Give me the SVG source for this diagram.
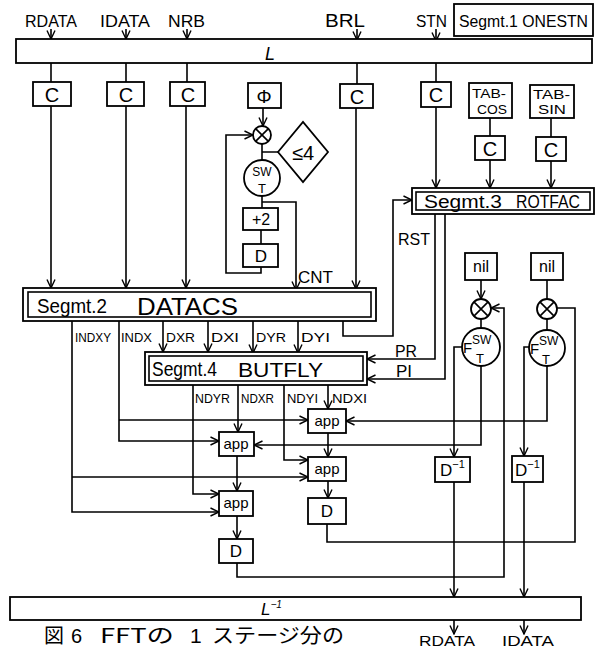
<svg xmlns="http://www.w3.org/2000/svg" width="597" height="651" viewBox="0 0 597 651">
<style>
.l{fill:none;stroke:#000;stroke-width:1.6}
.a{fill:none;stroke:#000;stroke-width:1.6;marker-end:url(#ar)}
.b{fill:#fff;stroke:#000;stroke-width:1.8}
.t{font-family:"Liberation Sans","DejaVu Sans",sans-serif;fill:#000}
.c{text-anchor:middle}
.j{font-family:"Noto Sans CJK JP","Liberation Sans",sans-serif;fill:#000}
</style>
<defs>
<marker id="ar" viewBox="0 0 10 10" refX="9.5" refY="5" markerWidth="10" markerHeight="10" markerUnits="userSpaceOnUse" orient="auto">
<path d="M1,1 L9.5,5 L1,9" fill="none" stroke="#000" stroke-width="1.4"/>
</marker>
</defs>
<rect width="597" height="651" fill="#fff"/>

<g id="connectors">
<path class="a" d="M51,29V39"/>
<path class="a" d="M126,29V39"/>
<path class="a" d="M187,29V39"/>
<path class="a" d="M357,29V40"/>
<path class="a" d="M436,29V41"/>
<path class="l" d="M51,63V82"/>
<path class="l" d="M126,63V82"/>
<path class="l" d="M187,63V82"/>
<path class="l" d="M357,63V84"/>
<path class="l" d="M436,63V82"/>
<path class="a" d="M51,106V288"/>
<path class="a" d="M126,106V288"/>
<path class="a" d="M186,106V288"/>
<path class="a" d="M356,108V289"/>
<path class="a" d="M436,107V188"/>
<path class="l" d="M490,118V136"/>
<path class="a" d="M490,160V188"/>
<path class="l" d="M551,118V137"/>
<path class="a" d="M551,161V188"/>
<path class="a" d="M263,108V126"/>
<path class="l" d="M262,144V160M262,152H278"/>
<path class="l" d="M262,196V208"/>
<path class="a" d="M262,202H296V290"/>
<path class="l" d="M261,230V244"/>
<path class="a" d="M261,267V273H226V135H253"/>
<path class="a" d="M343,321V336H393V200H412"/>
<path class="a" d="M435,214V359H367"/>
<path class="a" d="M445,214V379H367"/>
<path class="a" d="M163,321V352"/>
<path class="a" d="M208,321V352"/>
<path class="a" d="M253,321V353"/>
<path class="a" d="M298,321V353"/>
<path class="a" d="M72,321V512H219"/>
<path class="a" d="M72,477H308"/>
<path class="a" d="M119,321V441H219"/>
<path class="a" d="M119,420H308"/>
<path class="a" d="M193,385V494H219"/>
<path class="a" d="M238,385V432"/>
<path class="a" d="M284,385V460H308"/>
<path class="a" d="M328,385V409"/>
<path class="a" d="M328,433V457"/>
<path class="a" d="M237,456V491"/>
<path class="a" d="M237,516V539"/>
<path class="a" d="M328,481V498"/>
<path class="l" d="M327,524V542H575V308H557"/>
<path class="a" d="M237,563V577H504V308H491"/>
<path class="a" d="M481,280V299"/>
<path class="l" d="M547,280V299"/>
<path class="l" d="M481,319V328"/>
<path class="l" d="M547,319V330"/>
<path class="a" d="M481,366V445H254"/>
<path class="a" d="M463,347H454V457"/>
<path class="a" d="M547,366V421H346"/>
<path class="a" d="M530,347H524V456"/>
<path class="a" d="M454,482V597"/>
<path class="a" d="M524,482V597"/>
<path class="a" d="M454,620V634"/>
<path class="a" d="M524,620V634"/>
</g>

<g id="labels">
<text class="t" x="25" y="27" font-size="16" textLength="52" lengthAdjust="spacingAndGlyphs">RDATA</text>
<text class="t" x="100" y="27" font-size="16" textLength="50" lengthAdjust="spacingAndGlyphs">IDATA</text>
<text class="t" x="168" y="27" font-size="17" textLength="37" lengthAdjust="spacingAndGlyphs">NRB</text>
<text class="t" x="325" y="27" font-size="18" textLength="40" lengthAdjust="spacingAndGlyphs">BRL</text>
<text class="t" x="416" y="27" font-size="16" textLength="31" lengthAdjust="spacingAndGlyphs">STN</text>
<text class="t" x="298" y="283" font-size="17" textLength="35" lengthAdjust="spacingAndGlyphs">CNT</text>
<text class="t" x="398" y="245" font-size="17" textLength="32" lengthAdjust="spacingAndGlyphs">RST</text>
<text class="t" x="395" y="357" font-size="17" textLength="22" lengthAdjust="spacingAndGlyphs">PR</text>
<text class="t" x="396" y="377" font-size="17">PI</text>
<text class="t" x="75" y="342" font-size="13" textLength="36" lengthAdjust="spacingAndGlyphs">INDXY</text>
<text class="t" x="121" y="342" font-size="13" textLength="31" lengthAdjust="spacingAndGlyphs">INDX</text>
<text class="t" x="166" y="342" font-size="13" textLength="29" lengthAdjust="spacingAndGlyphs">DXR</text>
<text class="t" x="211" y="342" font-size="13" textLength="28" lengthAdjust="spacingAndGlyphs">DXI</text>
<text class="t" x="256" y="342" font-size="13" textLength="30" lengthAdjust="spacingAndGlyphs">DYR</text>
<text class="t" x="301" y="342" font-size="13" textLength="29" lengthAdjust="spacingAndGlyphs">DYI</text>
<text class="t" x="195" y="403" font-size="13" textLength="35" lengthAdjust="spacingAndGlyphs">NDYR</text>
<text class="t" x="241" y="403" font-size="13" textLength="33" lengthAdjust="spacingAndGlyphs">NDXR</text>
<text class="t" x="287" y="403" font-size="13" textLength="31" lengthAdjust="spacingAndGlyphs">NDYI</text>
<text class="t" x="332" y="403" font-size="13" textLength="35" lengthAdjust="spacingAndGlyphs">NDXI</text>
<text class="t" x="419" y="646" font-size="14" textLength="56" lengthAdjust="spacingAndGlyphs">RDATA</text>
<text class="t" x="502" y="646" font-size="14" textLength="52" lengthAdjust="spacingAndGlyphs">IDATA</text>
</g>

<g id="caption">
<text class="j" x="44" y="643" font-size="20">図</text>
<text class="t" x="71" y="643" font-size="20">6</text>
<text class="j" x="100" y="643" font-size="20" textLength="74" lengthAdjust="spacingAndGlyphs">FFTの</text>
<text class="t" x="190" y="643" font-size="21">1</text>
<text class="j" x="212" y="643" font-size="20" textLength="132" lengthAdjust="spacingAndGlyphs">ステージ分の</text>
</g>

<g id="seg1"><rect class="b" x="454" y="4" width="139" height="32"/>
<text class="t" x="459" y="27" font-size="16" textLength="129" lengthAdjust="spacingAndGlyphs">Segmt.1 ONESTN</text></g>

<g id="L"><rect class="b" x="16" y="39" width="576" height="24"/>
<text class="t c" x="270" y="60" font-size="18" font-style="italic">L</text></g>

<g id="C1"><rect class="b" x="33" y="82" width="38" height="24"/><text class="t c" x="52" y="102" font-size="20">C</text></g>
<g id="C2"><rect class="b" x="107" y="82" width="37" height="24"/><text class="t c" x="126" y="102" font-size="20">C</text></g>
<g id="C3"><rect class="b" x="170" y="82" width="35" height="24"/><text class="t c" x="188" y="102" font-size="20">C</text></g>
<g id="PHI"><rect class="b" x="248" y="83" width="33" height="25"/><text class="t c" x="264" y="103" font-size="19">Φ</text></g>
<g id="C4"><rect class="b" x="340" y="84" width="33" height="24"/><text class="t c" x="357" y="104" font-size="20">C</text></g>
<g id="C5"><rect class="b" x="421" y="82" width="30" height="25"/><text class="t c" x="436" y="102" font-size="20">C</text></g>
<g id="TABCOS"><rect class="b" x="469" y="83" width="43" height="35"/>
<text class="t" x="472" y="98" font-size="13" textLength="34" lengthAdjust="spacingAndGlyphs">TAB-</text>
<text class="t" x="477" y="114" font-size="13" textLength="30" lengthAdjust="spacingAndGlyphs">COS</text></g>
<g id="TABSIN"><rect class="b" x="530" y="85" width="44" height="33"/>
<text class="t" x="533" y="99" font-size="13" textLength="37" lengthAdjust="spacingAndGlyphs">TAB-</text>
<text class="t" x="538" y="114" font-size="13" textLength="28" lengthAdjust="spacingAndGlyphs">SIN</text></g>
<g id="C6"><rect class="b" x="475" y="136" width="30" height="24"/><text class="t c" x="490" y="156" font-size="20">C</text></g>
<g id="C7"><rect class="b" x="536" y="137" width="30" height="24"/><text class="t c" x="551" y="157" font-size="20">C</text></g>

<g id="seg3"><rect class="b" x="412" y="188" width="182" height="26"/><rect class="l" x="416" y="192" width="174" height="18"/>
<text class="t" x="424" y="208" font-size="18" textLength="78" lengthAdjust="spacingAndGlyphs">Segmt.3</text>
<text class="t" x="516" y="208" font-size="18" textLength="64" lengthAdjust="spacingAndGlyphs">ROTFAC</text></g>

<g id="mul1"><circle class="b" cx="262" cy="135" r="9"/><path class="l" d="M255.6,128.6L268.4,141.4M268.4,128.6L255.6,141.4"/></g>
<g id="cmp"><path class="b" d="M278,152L303,122L328,152L303,182Z"/><text class="t c" x="303" y="160" font-size="20">≤4</text></g>
<g id="sw1"><circle class="b" cx="262" cy="178" r="18"/>
<text class="t c" x="262" y="176" font-size="12">SW</text><text class="t c" x="262" y="193" font-size="13">T</text></g>
<g id="plus2"><rect class="b" x="243" y="208" width="35" height="22"/><text class="t c" x="261" y="225" font-size="16">+2</text></g>
<g id="D1"><rect class="b" x="243" y="244" width="35" height="23"/><text class="t c" x="261" y="262" font-size="17">D</text></g>

<g id="seg2"><rect class="b" x="23" y="288" width="353" height="33"/><rect class="l" x="28" y="292" width="343" height="25"/>
<text class="t" x="37" y="313" font-size="20" textLength="70" lengthAdjust="spacingAndGlyphs">Segmt.2</text>
<text class="t" x="137" y="315" font-size="24" textLength="101" lengthAdjust="spacingAndGlyphs">DATACS</text></g>

<g id="seg4"><rect class="b" x="145" y="352" width="222" height="33"/><rect class="l" x="149" y="356" width="214" height="25"/>
<text class="t" x="152" y="376" font-size="20" textLength="65" lengthAdjust="spacingAndGlyphs">Segmt.4</text>
<text class="t" x="238" y="377" font-size="21" textLength="85" lengthAdjust="spacingAndGlyphs">BUTFLY</text></g>

<g id="nil1"><rect class="b" x="465" y="253" width="32" height="27"/><text class="t c" x="481" y="272" font-size="16">nil</text></g>
<g id="nil2"><rect class="b" x="531" y="253" width="32" height="27"/><text class="t c" x="547" y="272" font-size="16">nil</text></g>
<g id="mul2"><circle class="b" cx="481" cy="309" r="10"/><path class="l" d="M473.9,301.9L488.1,316.1M488.1,301.9L473.9,316.1"/></g>
<g id="mul3"><circle class="b" cx="547" cy="309" r="10"/><path class="l" d="M539.9,301.9L554.1,316.1M554.1,301.9L539.9,316.1"/></g>
<g id="sw2"><circle class="b" cx="481" cy="347" r="19"/>
<text class="t" x="472" y="344" font-size="12">SW</text><text class="t" x="463" y="353" font-size="15">F</text><text class="t" x="476" y="363" font-size="13">T</text></g>
<g id="sw3"><circle class="b" cx="547" cy="348" r="18"/>
<text class="t" x="539" y="345" font-size="12">SW</text><text class="t" x="530" y="354" font-size="15">F</text><text class="t" x="542" y="364" font-size="13">T</text></g>

<g id="appA"><rect class="b" x="308" y="409" width="38" height="24"/><text class="t c" x="327" y="426" font-size="15">app</text></g>
<g id="appB"><rect class="b" x="219" y="432" width="35" height="24"/><text class="t c" x="236" y="449" font-size="15">app</text></g>
<g id="appC"><rect class="b" x="308" y="457" width="38" height="24"/><text class="t c" x="327" y="474" font-size="15">app</text></g>
<g id="appD"><rect class="b" x="219" y="491" width="34" height="25"/><text class="t c" x="236" y="508" font-size="15">app</text></g>
<g id="D2"><rect class="b" x="308" y="498" width="38" height="26"/><text class="t c" x="327" y="517" font-size="17">D</text></g>
<g id="D3"><rect class="b" x="219" y="539" width="34" height="24"/><text class="t c" x="236" y="557" font-size="17">D</text></g>
<g id="Dinv1"><rect class="b" x="435" y="457" width="35" height="25"/><text class="t" x="440" y="476" font-size="17">D<tspan font-size="11" dy="-8">−1</tspan></text></g>
<g id="Dinv2"><rect class="b" x="512" y="456" width="31" height="26"/><text class="t" x="515" y="476" font-size="17">D<tspan font-size="11" dy="-8">−1</tspan></text></g>

<g id="Linv"><rect class="b" x="10" y="597" width="571" height="23"/>
<text class="t" x="261" y="615" font-size="17" font-style="italic">L<tspan font-size="10" dy="-7">−1</tspan></text></g>
</svg>
